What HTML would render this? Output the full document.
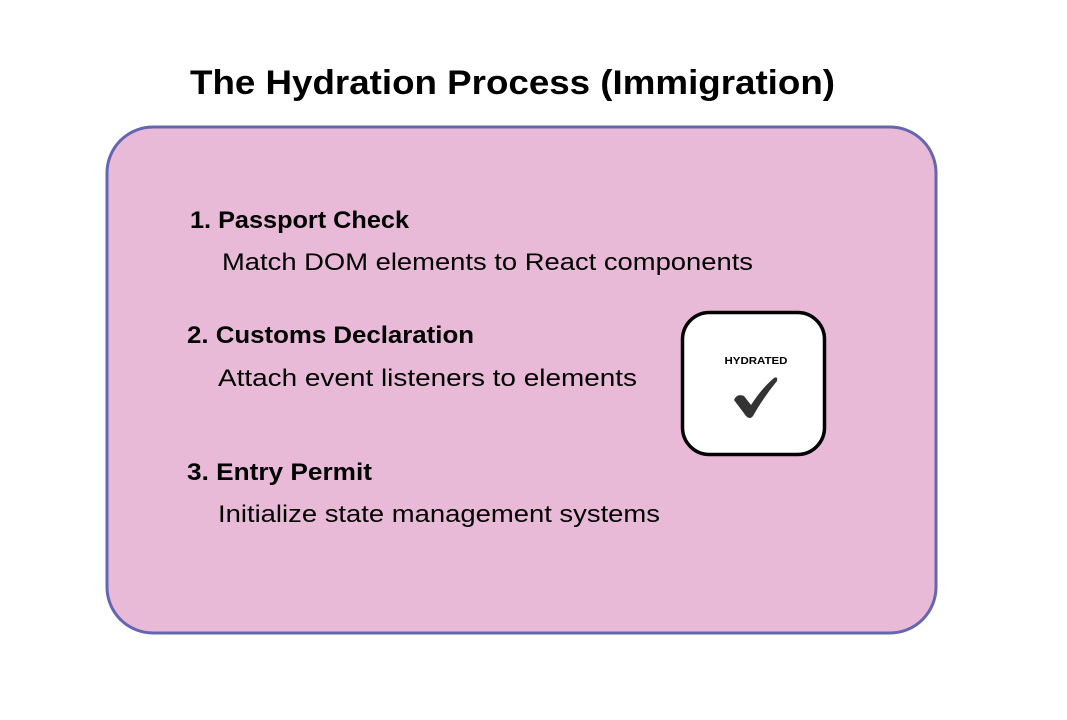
<!DOCTYPE html>
<html><head><meta charset="utf-8"><style>
html,body{margin:0;padding:0;background:#fff;}
svg{display:block;font-family:"Liberation Sans",sans-serif;}
</style></head><body>
<svg width="1067" height="720" viewBox="0 0 1067 720">
<text x="190" y="94" font-size="34" font-weight="bold" textLength="645" lengthAdjust="spacingAndGlyphs">The Hydration Process (Immigration)</text>
<rect x="107" y="127" width="829" height="506" rx="46" fill="#e8bad8" stroke="#6466b0" stroke-width="3"/>
<text x="190" y="228" font-size="24" font-weight="bold" textLength="219" lengthAdjust="spacingAndGlyphs">1. Passport Check</text>
<text x="222" y="270" font-size="24" textLength="531" lengthAdjust="spacingAndGlyphs">Match DOM elements to React components</text>
<text x="187" y="343" font-size="24" font-weight="bold" textLength="287" lengthAdjust="spacingAndGlyphs">2. Customs Declaration</text>
<text x="218" y="386" font-size="24" textLength="419" lengthAdjust="spacingAndGlyphs">Attach event listeners to elements</text>
<text x="187" y="480" font-size="24" font-weight="bold" textLength="185" lengthAdjust="spacingAndGlyphs">3. Entry Permit</text>
<text x="218" y="522" font-size="24" textLength="442" lengthAdjust="spacingAndGlyphs">Initialize state management systems</text>
<g>
<rect x="682.5" y="312.5" width="142" height="142" rx="27" fill="#fff" stroke="#000" stroke-width="3.5"/>
<text x="756" y="364" font-size="10" font-weight="bold" text-anchor="middle" textLength="63" lengthAdjust="spacingAndGlyphs">HYDRATED</text>
<path d="M734 400 Q737 393 744 396 L751 405 Q762 388 774 378 Q778 376 777 381 Q763 398 753 416 Q750 420 746 416 Z" fill="#333"/>
</g>
</svg>
</body></html>
